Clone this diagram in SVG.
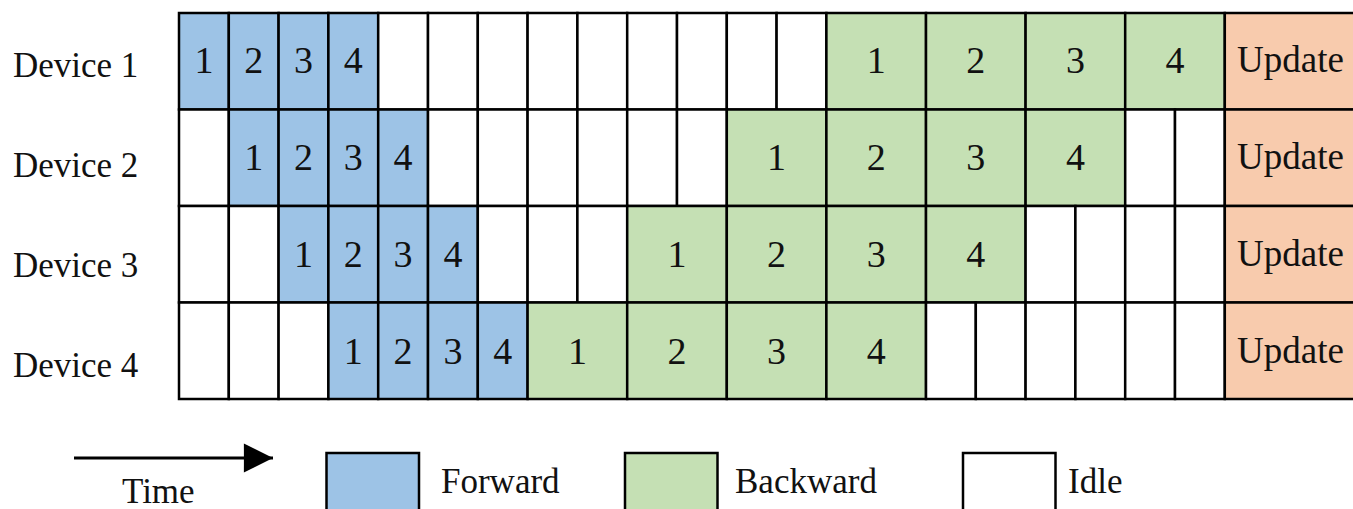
<svg xmlns="http://www.w3.org/2000/svg" width="1353" height="509" viewBox="0 0 1353 509">
<defs>
<style>
.c{stroke:#000;stroke-width:2.5}
.f{fill:#9DC3E6}
.b{fill:#C5E0B4}
.i{fill:#FFFFFF}
.u{fill:#F8CBAD}
text{font-family:"Liberation Serif","Times New Roman",serif;fill:#111}
.n{font-size:38px;text-anchor:middle}
.up{font-size:37px}
.lb{font-size:35px}
</style>
<marker id="ah" viewBox="0 0 10 10" refX="10" refY="5" markerWidth="13.3" markerHeight="9.7" markerUnits="strokeWidth" orient="auto">
<path d="M0,0 L10,5 L0,10 Z" fill="#000"/>
</marker>
</defs>
<rect width="1353" height="509" fill="#fff"/>

<g id="labels">
<text class="lb" x="13" y="77">Device 1</text>
<text class="lb" x="13" y="177">Device 2</text>
<text class="lb" x="13" y="277">Device 3</text>
<text class="lb" x="13" y="377">Device 4</text>
</g>

<g id="device1">
<rect class="c f" x="179" y="13" width="49.8" height="96.5"/>
<rect class="c f" x="228.8" y="13" width="49.8" height="96.5"/>
<rect class="c f" x="278.6" y="13" width="49.8" height="96.5"/>
<rect class="c f" x="328.4" y="13" width="49.8" height="96.5"/>
<rect class="c i" x="378.2" y="13" width="49.8" height="96.5"/>
<rect class="c i" x="428" y="13" width="49.8" height="96.5"/>
<rect class="c i" x="477.8" y="13" width="49.8" height="96.5"/>
<rect class="c i" x="527.6" y="13" width="49.8" height="96.5"/>
<rect class="c i" x="577.4" y="13" width="49.8" height="96.5"/>
<rect class="c i" x="627.2" y="13" width="49.8" height="96.5"/>
<rect class="c i" x="677" y="13" width="49.8" height="96.5"/>
<rect class="c i" x="726.8" y="13" width="49.8" height="96.5"/>
<rect class="c i" x="776.6" y="13" width="49.8" height="96.5"/>
<rect class="c b" x="826.4" y="13" width="99.6" height="96.5"/>
<rect class="c b" x="926" y="13" width="99.6" height="96.5"/>
<rect class="c b" x="1025.6" y="13" width="99.6" height="96.5"/>
<rect class="c b" x="1125.2" y="13" width="99.6" height="96.5"/>
<rect class="c u" x="1224.8" y="13" width="140" height="96.5"/>
<text class="n" x="203.9" y="73">1</text>
<text class="n" x="253.7" y="73">2</text>
<text class="n" x="303.5" y="73">3</text>
<text class="n" x="353.3" y="73">4</text>
<text class="n" x="876.2" y="73">1</text>
<text class="n" x="975.8" y="73">2</text>
<text class="n" x="1075.4" y="73">3</text>
<text class="n" x="1175" y="73">4</text>
<text class="up" x="1237" y="72">Update</text>
</g>

<g id="device2">
<rect class="c i" x="179" y="109.5" width="49.8" height="96.5"/>
<rect class="c f" x="228.8" y="109.5" width="49.8" height="96.5"/>
<rect class="c f" x="278.6" y="109.5" width="49.8" height="96.5"/>
<rect class="c f" x="328.4" y="109.5" width="49.8" height="96.5"/>
<rect class="c f" x="378.2" y="109.5" width="49.8" height="96.5"/>
<rect class="c i" x="428" y="109.5" width="49.8" height="96.5"/>
<rect class="c i" x="477.8" y="109.5" width="49.8" height="96.5"/>
<rect class="c i" x="527.6" y="109.5" width="49.8" height="96.5"/>
<rect class="c i" x="577.4" y="109.5" width="49.8" height="96.5"/>
<rect class="c i" x="627.2" y="109.5" width="49.8" height="96.5"/>
<rect class="c i" x="677" y="109.5" width="49.8" height="96.5"/>
<rect class="c b" x="726.8" y="109.5" width="99.6" height="96.5"/>
<rect class="c b" x="826.4" y="109.5" width="99.6" height="96.5"/>
<rect class="c b" x="926" y="109.5" width="99.6" height="96.5"/>
<rect class="c b" x="1025.6" y="109.5" width="99.6" height="96.5"/>
<rect class="c i" x="1125.2" y="109.5" width="49.8" height="96.5"/>
<rect class="c i" x="1175" y="109.5" width="49.8" height="96.5"/>
<rect class="c u" x="1224.8" y="109.5" width="140" height="96.5"/>
<text class="n" x="253.7" y="170">1</text>
<text class="n" x="303.5" y="170">2</text>
<text class="n" x="353.3" y="170">3</text>
<text class="n" x="403.1" y="170">4</text>
<text class="n" x="776.6" y="170">1</text>
<text class="n" x="876.2" y="170">2</text>
<text class="n" x="975.8" y="170">3</text>
<text class="n" x="1075.4" y="170">4</text>
<text class="up" x="1237" y="169">Update</text>
</g>

<g id="device3">
<rect class="c i" x="179" y="206" width="49.8" height="96.5"/>
<rect class="c i" x="228.8" y="206" width="49.8" height="96.5"/>
<rect class="c f" x="278.6" y="206" width="49.8" height="96.5"/>
<rect class="c f" x="328.4" y="206" width="49.8" height="96.5"/>
<rect class="c f" x="378.2" y="206" width="49.8" height="96.5"/>
<rect class="c f" x="428" y="206" width="49.8" height="96.5"/>
<rect class="c i" x="477.8" y="206" width="49.8" height="96.5"/>
<rect class="c i" x="527.6" y="206" width="49.8" height="96.5"/>
<rect class="c i" x="577.4" y="206" width="49.8" height="96.5"/>
<rect class="c b" x="627.2" y="206" width="99.6" height="96.5"/>
<rect class="c b" x="726.8" y="206" width="99.6" height="96.5"/>
<rect class="c b" x="826.4" y="206" width="99.6" height="96.5"/>
<rect class="c b" x="926" y="206" width="99.6" height="96.5"/>
<rect class="c i" x="1025.6" y="206" width="49.8" height="96.5"/>
<rect class="c i" x="1075.4" y="206" width="49.8" height="96.5"/>
<rect class="c i" x="1125.2" y="206" width="49.8" height="96.5"/>
<rect class="c i" x="1175" y="206" width="49.8" height="96.5"/>
<rect class="c u" x="1224.8" y="206" width="140" height="96.5"/>
<text class="n" x="303.5" y="267">1</text>
<text class="n" x="353.3" y="267">2</text>
<text class="n" x="403.1" y="267">3</text>
<text class="n" x="452.9" y="267">4</text>
<text class="n" x="677" y="267">1</text>
<text class="n" x="776.6" y="267">2</text>
<text class="n" x="876.2" y="267">3</text>
<text class="n" x="975.8" y="267">4</text>
<text class="up" x="1237" y="266">Update</text>
</g>

<g id="device4">
<rect class="c i" x="179" y="302.5" width="49.8" height="96.5"/>
<rect class="c i" x="228.8" y="302.5" width="49.8" height="96.5"/>
<rect class="c i" x="278.6" y="302.5" width="49.8" height="96.5"/>
<rect class="c f" x="328.4" y="302.5" width="49.8" height="96.5"/>
<rect class="c f" x="378.2" y="302.5" width="49.8" height="96.5"/>
<rect class="c f" x="428" y="302.5" width="49.8" height="96.5"/>
<rect class="c f" x="477.8" y="302.5" width="49.8" height="96.5"/>
<rect class="c b" x="527.6" y="302.5" width="99.6" height="96.5"/>
<rect class="c b" x="627.2" y="302.5" width="99.6" height="96.5"/>
<rect class="c b" x="726.8" y="302.5" width="99.6" height="96.5"/>
<rect class="c b" x="826.4" y="302.5" width="99.6" height="96.5"/>
<rect class="c i" x="926" y="302.5" width="49.8" height="96.5"/>
<rect class="c i" x="975.8" y="302.5" width="49.8" height="96.5"/>
<rect class="c i" x="1025.6" y="302.5" width="49.8" height="96.5"/>
<rect class="c i" x="1075.4" y="302.5" width="49.8" height="96.5"/>
<rect class="c i" x="1125.2" y="302.5" width="49.8" height="96.5"/>
<rect class="c i" x="1175" y="302.5" width="49.8" height="96.5"/>
<rect class="c u" x="1224.8" y="302.5" width="140" height="96.5"/>
<text class="n" x="353.3" y="364">1</text>
<text class="n" x="403.1" y="364">2</text>
<text class="n" x="452.9" y="364">3</text>
<text class="n" x="502.7" y="364">4</text>
<text class="n" x="577.4" y="364">1</text>
<text class="n" x="677" y="364">2</text>
<text class="n" x="776.6" y="364">3</text>
<text class="n" x="876.2" y="364">4</text>
<text class="up" x="1237" y="363">Update</text>
</g>

<g id="connectors">
<line x1="74" y1="458" x2="273" y2="458" stroke="#000" stroke-width="3" marker-end="url(#ah)"/>
</g>

<g id="legend-time">
<text class="lb" x="122" y="503">Time</text>
</g>
<g id="legend-forward">
<rect class="c f" x="326.5" y="453" width="92.5" height="70"/>
<text class="lb" x="441" y="493">Forward</text>
</g>
<g id="legend-backward">
<rect class="c b" x="625" y="453" width="92.5" height="70"/>
<text class="lb" x="735" y="493">Backward</text>
</g>
<g id="legend-idle">
<rect class="c i" x="963" y="453" width="92.5" height="70"/>
<text class="lb" x="1068" y="493">Idle</text>
</g>
</svg>
